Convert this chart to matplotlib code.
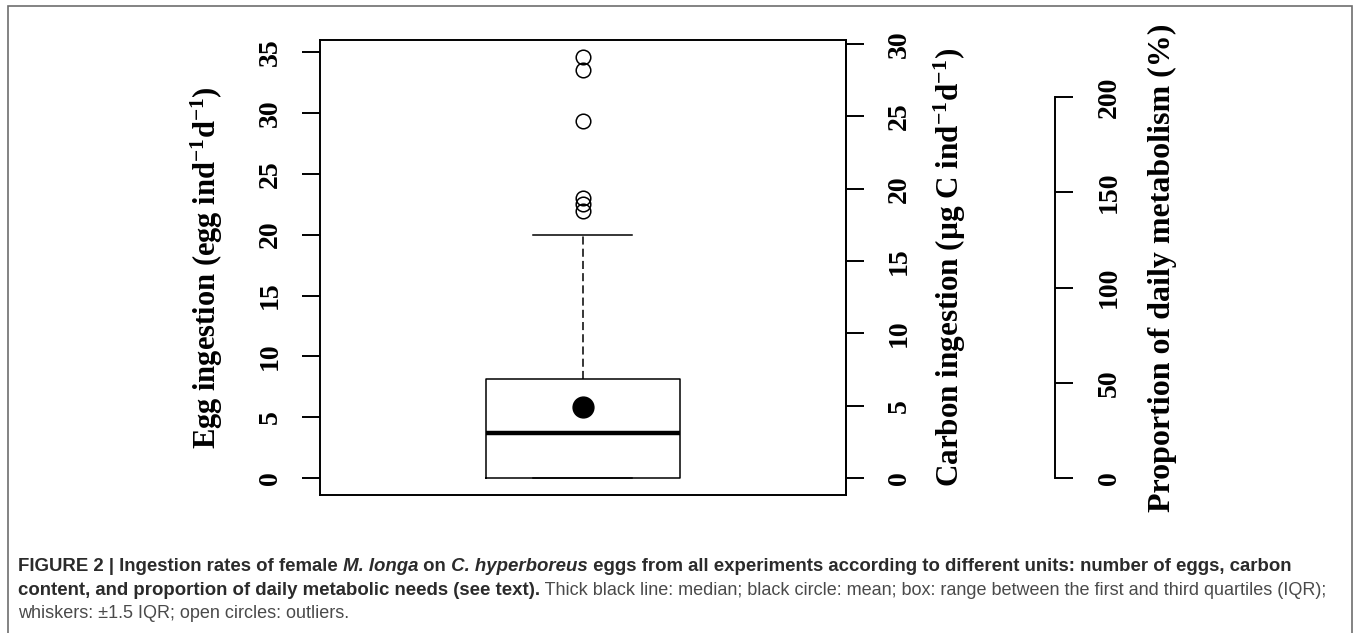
import numpy as np
import matplotlib
matplotlib.use("Agg")
import matplotlib.pyplot as plt
from matplotlib.patches import Rectangle
from matplotlib.transforms import IdentityTransform

# --- data (egg ind-1 d-1)
egg_q1 = 0.0
egg_median = 3.75
egg_q3 = 8.15
egg_whisker_lo = 0.0
egg_whisker_hi = 20.0
egg_mean = 5.85
egg_outliers = [21.9, 22.5, 23.0, 29.3, 33.5, 34.6]

egg_ticks = [0, 5, 10, 15, 20, 25, 30, 35]
carbon_ticks = [0, 5, 10, 15, 20, 25, 30]
metab_ticks = [0, 50, 100, 150, 200]

# conversion factors from egg scale to the two other scales
egg_to_carbon = 0.8414
egg_to_metab = 6.387

# --- fonts
plt.rcParams["font.family"] = ["Liberation Serif", "DejaVu Serif"]
plt.rcParams["font.weight"] = "bold"
plt.rcParams["axes.labelweight"] = "bold"
plt.rcParams["mathtext.fontset"] = "custom"
plt.rcParams["mathtext.rm"] = "Liberation Serif:bold"
plt.rcParams["mathtext.it"] = "Liberation Serif:italic:bold"
plt.rcParams["mathtext.bf"] = "Liberation Serif:bold"

W, H = 1357, 633
fig = plt.figure(figsize=(W / 100, H / 100), dpi=100)

# outer frame of the figure panel
fig.patches.append(Rectangle((8, -20), 1352 - 8, (H - 6) + 20, transform=IdentityTransform(),
                             fill=False, edgecolor="#6e6e6e", lw=1.2))

ax = fig.add_axes([320 / W, 1 - 495 / H, (845.5 - 320) / W, (495 - 40) / H])

stats = [dict(med=egg_median, q1=egg_q1, q3=egg_q3, whislo=egg_whisker_lo,
              whishi=egg_whisker_hi, fliers=egg_outliers, mean=egg_mean)]
ax.bxp(stats, positions=[1], widths=0.37, capwidths=0.188, showmeans=True,
       boxprops=dict(color="black", lw=1.1),
       medianprops=dict(color="black", lw=3.2, solid_capstyle="butt"),
       whiskerprops=dict(color="black", lw=1.1, linestyle=(0, (5.3, 2.7))),
       capprops=dict(color="black", lw=1.1),
       flierprops=dict(marker="o", markerfacecolor="none", markeredgecolor="black",
                       markersize=10.5, markeredgewidth=1.1),
       meanprops=dict(marker="o", markerfacecolor="black", markeredgecolor="black",
                      markersize=15))

ylim = np.array([-1.38, 35.98])
ax.set_xlim(0.5, 1.5)
ax.set_ylim(*ylim)
ax.set_xticks([])
for s in ax.spines.values():
    s.set_linewidth(1.4)

tick_fs = 20
ax.set_yticks(egg_ticks)
ax.set_yticklabels([str(v) for v in egg_ticks], rotation=90, va="center", fontsize=tick_fs)
ax.tick_params(axis="y", direction="out", length=13, width=1.4, pad=14)
ax.set_ylabel("Egg ingestion (egg ind$^{-1}$d$^{-1}$)", fontsize=22, va="center")
ax.yaxis.set_label_coords((207 - 320) / 525.5, 0.5)

# carbon axis
ax2 = ax.twinx()
ax2.set_ylim(*(ylim * egg_to_carbon))
for k in ["left", "top", "bottom"]:
    ax2.spines[k].set_visible(False)
ax2.spines["right"].set_linewidth(1.4)
ax2.set_yticks(carbon_ticks)
ax2.set_yticklabels([str(v) for v in carbon_ticks], rotation=90, va="center", fontsize=tick_fs)
ax2.tick_params(axis="y", direction="out", length=13, width=1.4, pad=17)
ax2.set_ylabel("Carbon ingestion (µg C ind$^{-1}$d$^{-1}$)", fontsize=22.4, rotation=90, va="center")
ax2.yaxis.set_label_coords((950 - 320) / 525.5, 0.5)

# metabolism axis
ax3 = ax.twinx()
ax3.set_ylim(*(ylim * egg_to_metab))
for k in ["left", "top", "bottom"]:
    ax3.spines[k].set_visible(False)
ax3.spines["right"].set_position(("axes", (1055 - 320) / 525.5))
ax3.spines["right"].set_bounds(metab_ticks[0], metab_ticks[-1])
ax3.spines["right"].set_linewidth(1.4)
ax3.set_yticks(metab_ticks)
ax3.set_yticklabels([str(v) for v in metab_ticks], rotation=90, va="center", fontsize=tick_fs)
ax3.tick_params(axis="y", direction="out", length=13, width=1.4, pad=17)
ax3.set_ylabel("Proportion of daily metabolism (%)", fontsize=23, rotation=90, va="center")
ax3.yaxis.set_label_coords((1162 - 320) / 525.5, 0.5)

# --- caption, drawn piece by piece (bold / italic / regular)
bold_fs = 13.4
reg_fs = 12.95
bold_col = "#2b2b2b"
reg_col = "#4a4a4a"
caption_lines = [
    [("FIGURE 2 | Ingestion rates of female", "bold", "normal", bold_col),
     (" M. longa", "bold", "italic", bold_col),
     (" on", "bold", "normal", bold_col),
     (" C. hyperboreus", "bold", "italic", bold_col),
     (" eggs from all experiments according to different units: number of eggs, carbon", "bold", "normal", bold_col)],
    [("content, and proportion of daily metabolic needs (see text).", "bold", "normal", bold_col),
     (" Thick black line: median; black circle: mean; box: range between the first and third quartiles (IQR);",
      "normal", "normal", reg_col)],
    [("whiskers: \u00b11.5 IQR; open circles: outliers.", "normal", "normal", reg_col)],
]
baselines = [571, 595, 618]

renderer = fig.canvas.get_renderer()
for segs, yb in zip(caption_lines, baselines):
    x = 18
    for txt, wt, st, col in segs:
        t = fig.text(x, H - yb, txt, transform=IdentityTransform(),
                     fontsize=bold_fs if wt == "bold" else reg_fs,
                     family=["Liberation Sans", "DejaVu Sans"], weight=wt, style=st,
                     color=col, ha="left", va="baseline")
        x += t.get_window_extent(renderer).width

fig.savefig("out.png", dpi=100)
